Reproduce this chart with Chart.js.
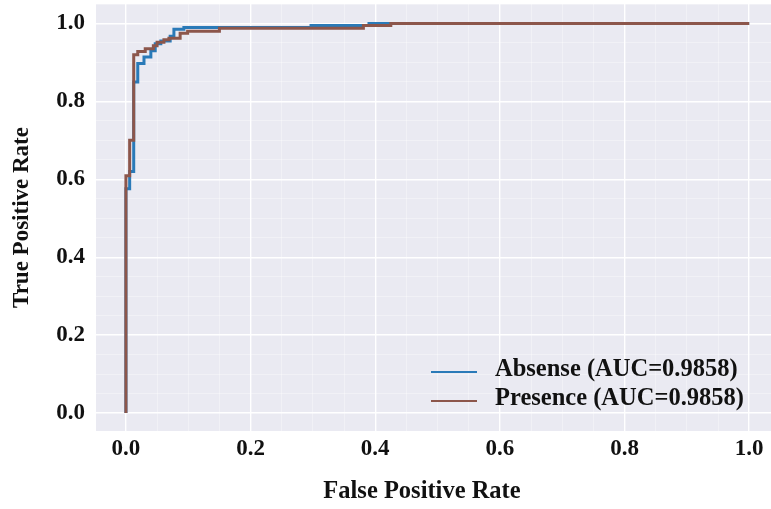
<!DOCTYPE html>
<html>
<head>
<meta charset="utf-8">
<script src="https://cdn.jsdelivr.net/npm/chart.js@4/dist/chart.umd.min.js"></script>
<style>
  html, body { margin: 0; padding: 0; background: #ffffff; }
  #c { display: block; }
</style>
</head>
<body>
<canvas id="c" width="771" height="509"></canvas>
<script>
// ---- Data ----
const seriesLabels = ['Absense (AUC=0.9858)', 'Presence (AUC=0.9858)'];

const absenseFpr = [0, 0, 0.006, 0.006, 0.0125, 0.0125, 0.019, 0.019, 0.029, 0.029, 0.040, 0.040, 0.047, 0.047, 0.056, 0.056, 0.071, 0.071, 0.077, 0.077, 0.093, 0.093, 0.297, 0.297, 0.39, 0.39, 1.0];
const absenseTpr = [0, 0.576, 0.576, 0.62, 0.62, 0.85, 0.85, 0.897, 0.897, 0.914, 0.914, 0.93, 0.93, 0.948, 0.948, 0.955, 0.955, 0.967, 0.967, 0.985, 0.985, 0.99, 0.99, 0.995, 0.995, 1.0, 1.0];

const presenceFpr = [0, 0, 0.006, 0.006, 0.0125, 0.0125, 0.019, 0.019, 0.031, 0.031, 0.044, 0.044, 0.050, 0.050, 0.061, 0.061, 0.069, 0.069, 0.087, 0.087, 0.099, 0.099, 0.150, 0.150, 0.381, 0.381, 0.425, 0.425, 1.0];
const presenceTpr = [0, 0.609, 0.609, 0.70, 0.70, 0.92, 0.92, 0.928, 0.928, 0.935, 0.935, 0.943, 0.943, 0.952, 0.952, 0.958, 0.958, 0.962, 0.962, 0.975, 0.975, 0.98, 0.98, 0.988, 0.988, 0.995, 0.995, 1.0, 1.0];

const xTickValues = [0, 0.2, 0.4, 0.6, 0.8, 1.0];
const xTickLabels = ['0.0', '0.2', '0.4', '0.6', '0.8', '1.0'];
const yTickValues = [0, 0.2, 0.4, 0.6, 0.8, 1.0];
const yTickLabels = ['0.0', '0.2', '0.4', '0.6', '0.8', '1.0'];
const xTitle = 'False Positive Rate';
const yTitle = 'True Positive Rate';

// ---- Styling ----
const FONT = "'Liberation Serif', 'Times New Roman', serif";
const BLUE = '#2a7ab8';
const BROWN = '#8c564b';
const BG = '#eaeaf2';

function toPoints(xs, ys) { return xs.map((x, i) => ({ x: x, y: ys[i] })); }

function labelFor(values, labels, v) {
  const i = values.findIndex(t => Math.abs(t - v) < 1e-6);
  return i >= 0 ? labels[i] : '';
}
function isMajor(values, v) { return values.some(t => Math.abs(t - v) < 1e-6); }
function buildMinorTicks(scale) {
  const t = [];
  for (let k = -2; k <= 22; k++) {
    const v = +(k * 0.05).toFixed(2);
    if (v >= scale.min - 1e-9 && v <= scale.max + 1e-9) t.push({ value: v });
  }
  scale.ticks = t;
}

const bgPlugin = {
  id: 'plotBg',
  beforeDraw(chart) {
    const { ctx, chartArea: a } = chart;
    ctx.save();
    ctx.fillStyle = BG;
    ctx.fillRect(a.left, a.top, a.right - a.left, a.bottom - a.top);
    ctx.restore();
  }
};

const textPlugin = {
  id: 'textBits',
  afterDraw(chart) {
    const ctx = chart.ctx;
    ctx.save();
    // x-axis title
    ctx.fillStyle = '#111111';
    ctx.font = 'bold 24.5px ' + FONT;
    ctx.textAlign = 'center';
    ctx.textBaseline = 'middle';
    ctx.fillText(xTitle, 422, 492);
    // legend inside the plot, lower right
    const rows = [{ lineY: 372, textY: 370 }, { lineY: 401, textY: 399 }];
    chart.data.datasets.forEach((ds, i) => {
      const r = rows[i];
      ctx.strokeStyle = ds.borderColor;
      ctx.lineWidth = 2.2;
      ctx.beginPath();
      ctx.moveTo(431, r.lineY);
      ctx.lineTo(477, r.lineY);
      ctx.stroke();
      ctx.fillStyle = '#111111';
      ctx.font = 'bold 24.5px ' + FONT;
      ctx.textBaseline = 'middle';
      ctx.textAlign = 'left';
      ctx.fillText(ds.label, 495, r.textY);
    });
    ctx.restore();
  }
};

new Chart(document.getElementById('c'), {
  type: 'line',
  data: {
    datasets: [
      {
        label: seriesLabels[0],
        data: toPoints(absenseFpr, absenseTpr),
        borderColor: BLUE,
        borderWidth: 3,
        pointRadius: 0,
        fill: false,
        tension: 0,
        order: 1
      },
      {
        label: seriesLabels[1],
        data: toPoints(presenceFpr, presenceTpr),
        borderColor: BROWN,
        borderWidth: 3,
        pointRadius: 0,
        fill: false,
        tension: 0,
        order: 0
      }
    ]
  },
  options: {
    responsive: false,
    devicePixelRatio: 1,
    animation: false,
    layout: { padding: { top: 4, right: 0, bottom: 0, left: 0 } },
    plugins: { legend: { display: false }, tooltip: { enabled: false } },
    scales: {
      x: {
        type: 'linear',
        min: -0.048,
        max: 1.035,
        afterBuildTicks: buildMinorTicks,
        afterFit(scale) {
          scale.height = 78;
          scale.paddingLeft = 0; scale.paddingRight = 0;
        },
        border: { display: false },
        grid: {
          drawTicks: false,
          color: c => isMajor(xTickValues, c.tick.value) ? '#ffffff' : 'rgba(255,255,255,0.5)',
          lineWidth: c => isMajor(xTickValues, c.tick.value) ? 1.4 : 0.7
        },
        ticks: {
          autoSkip: false,
          maxRotation: 0,
          padding: 4,
          color: '#111111',
          font: { family: FONT, size: 23, weight: 'bold' },
          callback: v => labelFor(xTickValues, xTickLabels, v)
        },
        title: { display: false, text: xTitle }
      },
      y: {
        type: 'linear',
        min: -0.046,
        max: 1.05,
        afterBuildTicks: buildMinorTicks,
        afterFit(scale) {
          scale.width = 96;
          scale.paddingTop = 0; scale.paddingBottom = 0;
        },
        border: { display: false },
        grid: {
          drawTicks: false,
          color: c => isMajor(yTickValues, c.tick.value) ? '#ffffff' : 'rgba(255,255,255,0.5)',
          lineWidth: c => isMajor(yTickValues, c.tick.value) ? 1.4 : 0.7
        },
        ticks: {
          autoSkip: false,
          padding: 11,
          color: '#111111',
          font: { family: FONT, size: 23, weight: 'bold' },
          callback: v => labelFor(yTickValues, yTickLabels, v)
        },
        title: {
          display: true,
          text: yTitle,
          color: '#111111',
          font: { family: FONT, size: 23, weight: 'bold' },
          padding: { top: 8, bottom: 0 }
        }
      }
    }
  },
  plugins: [bgPlugin, textPlugin]
});
</script>
</body>
</html>
